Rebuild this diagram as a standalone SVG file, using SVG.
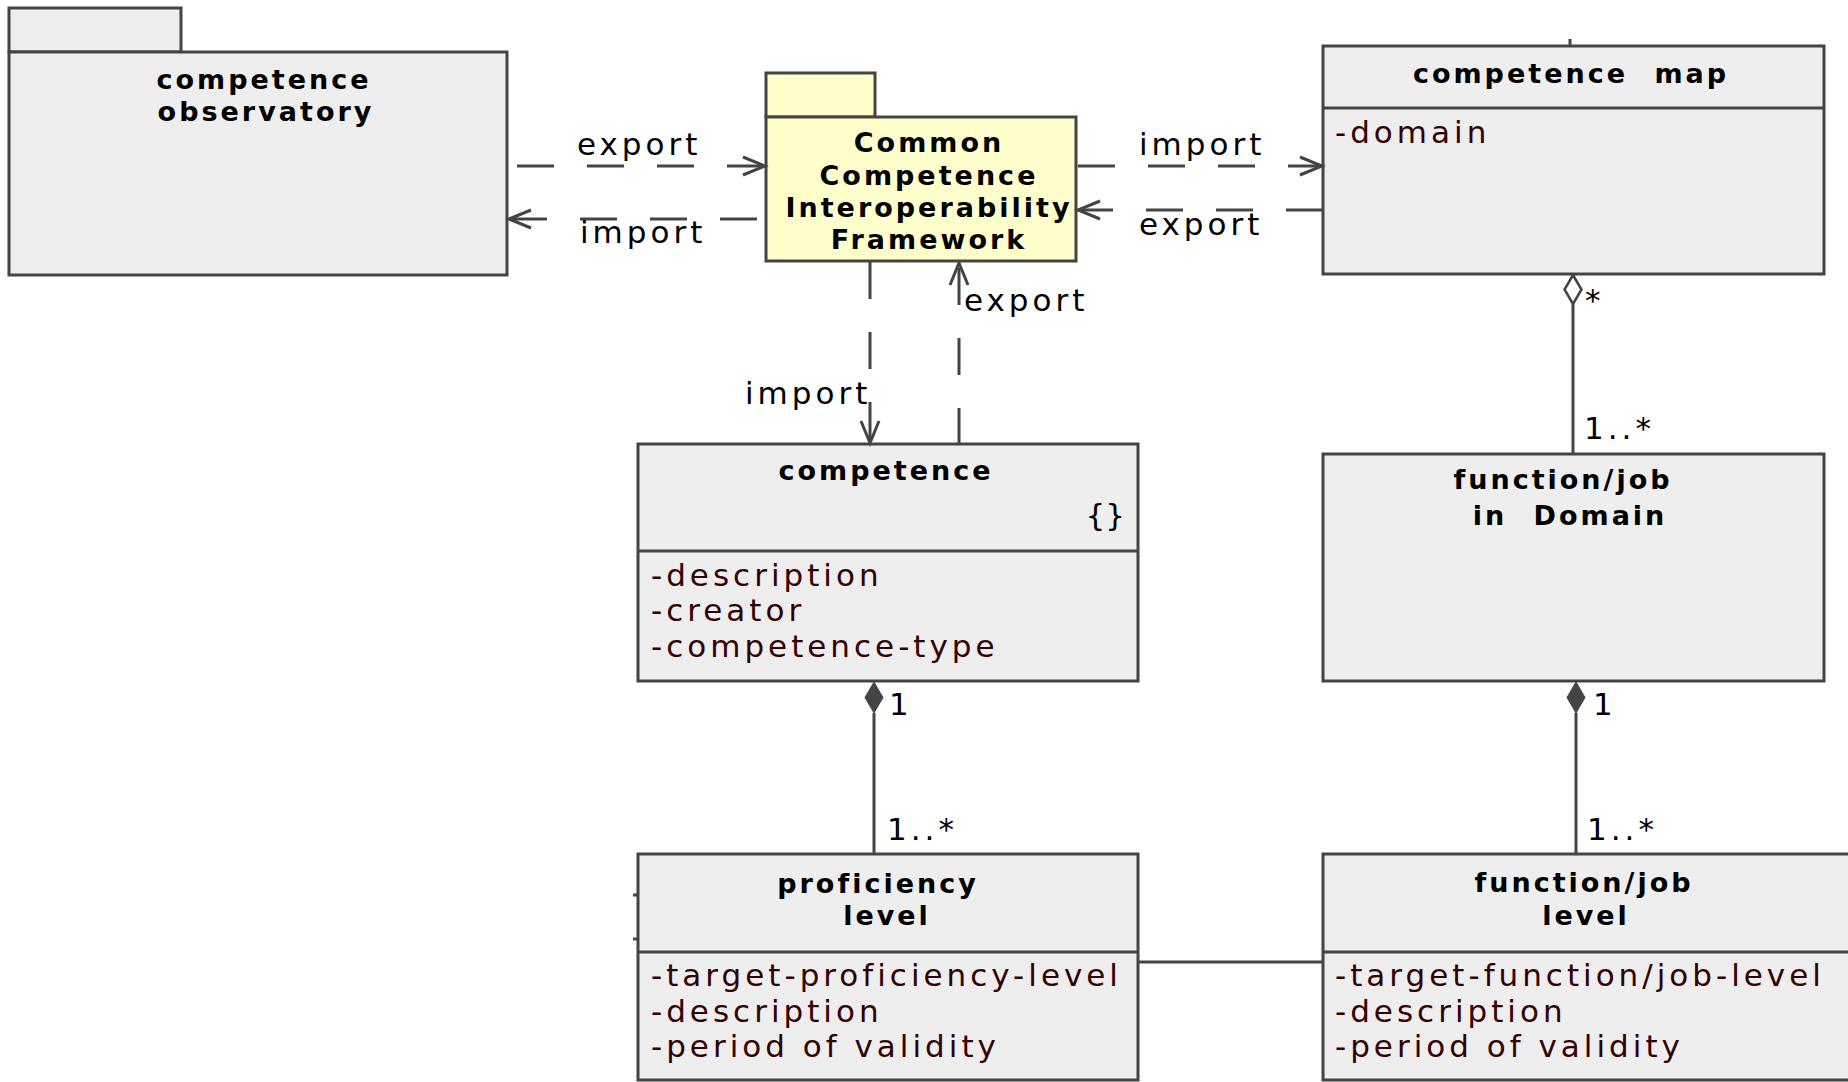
<svg xmlns="http://www.w3.org/2000/svg" width="1848" height="1082" viewBox="0 0 1848 1082">
<style>
.box{fill:#eeeeee;stroke:#444444;stroke-width:3}
.pkg{fill:#ffffcc;stroke:#444444;stroke-width:3}
.div{stroke:#444444;stroke-width:3}
.t{font-family:"DejaVu Sans",sans-serif;font-weight:bold;font-size:27px;fill:#000;text-anchor:middle;letter-spacing:3px;word-spacing:14px}
.l{font-family:"DejaVu Sans",sans-serif;font-size:31px;fill:#000;letter-spacing:4px}
.a{font-family:"DejaVu Sans",sans-serif;font-size:31px;fill:#330000;letter-spacing:4px}
.dash{stroke:#444444;stroke-width:3;fill:none;stroke-dasharray:37 33}
.solid{stroke:#444444;stroke-width:3;fill:none}
</style>
<defs>
<marker id="open" markerUnits="userSpaceOnUse" markerWidth="30" markerHeight="26" viewBox="-26 -13 30 26" refX="0" refY="0" orient="auto">
<path d="M-22,-9 L0,0 L-22,9" fill="none" stroke="#444444" stroke-width="3"/>
</marker>
</defs>
<rect width="1848" height="1082" fill="#ffffff"/>

<g id="competence-observatory">
<rect class="box" x="9" y="8" width="172" height="44"/>
<rect class="box" x="9" y="52" width="498" height="223"/>
<text class="t" x="264" y="89">competence</text>
<text class="t" x="266" y="121">observatory</text>
</g>

<g id="ccif">
<rect class="pkg" x="766" y="73" width="109" height="44"/>
<rect class="pkg" x="766" y="117" width="310" height="144"/>
<text class="t" x="929" y="152">Common</text>
<text class="t" x="929" y="185">Competence</text>
<text class="t" x="929" y="217">Interoperability</text>
<text class="t" x="929" y="249">Framework</text>
</g>

<g id="competence-map">
<line class="div" x1="1570" y1="39" x2="1570" y2="46"/>
<rect class="box" x="1323" y="46" width="501" height="228"/>
<line class="div" x1="1323" y1="108" x2="1824" y2="108"/>
<text class="t" x="1571" y="83">competence map</text>
<text class="a" x="1335" y="143">-domain</text>
</g>

<g id="competence">
<rect class="box" x="638" y="444" width="500" height="237"/>
<line class="div" x1="638" y1="551" x2="1138" y2="551"/>
<text class="t" x="886" y="480">competence</text>
<text class="l" x="1125" y="526" style="text-anchor:end;letter-spacing:0">{}</text>
<text class="a" x="651" y="586">-description</text>
<text class="a" x="651" y="621">-creator</text>
<text class="a" x="651" y="657">-competence-type</text>
</g>

<g id="function-job-in-domain">
<rect class="box" x="1323" y="454" width="501" height="227"/>
<text class="t" x="1563" y="489">function/job</text>
<text class="t" x="1570" y="525">in Domain</text>
</g>

<g id="proficiency-level">
<line class="div" x1="633" y1="895" x2="638" y2="895"/>
<line class="div" x1="633" y1="939" x2="638" y2="939"/>
<rect class="box" x="638" y="854" width="500" height="226"/>
<line class="div" x1="638" y1="952" x2="1138" y2="952"/>
<text class="t" x="878" y="893">proficiency</text>
<text class="t" x="887" y="925">level</text>
<text class="a" x="651" y="986">-target-proficiency-level</text>
<text class="a" x="651" y="1022">-description</text>
<text class="a" x="651" y="1057">-period of validity</text>
</g>

<g id="function-job-level">
<rect class="box" x="1323" y="854" width="545" height="226"/>
<line class="div" x1="1323" y1="952" x2="1868" y2="952"/>
<text class="t" x="1584" y="892">function/job</text>
<text class="t" x="1586" y="925">level</text>
<text class="a" x="1335" y="986">-target-function/job-level</text>
<text class="a" x="1335" y="1022">-description</text>
<text class="a" x="1335" y="1057">-period of validity</text>
</g>

<g id="connectors">
<line class="dash" x1="517" y1="166" x2="765" y2="166" marker-end="url(#open)"/>
<line class="dash" x1="757" y1="219" x2="509" y2="219" marker-end="url(#open)"/>
<line class="dash" x1="1078" y1="166" x2="1322" y2="166" marker-end="url(#open)"/>
<line class="dash" x1="1323" y1="210" x2="1078" y2="210" marker-end="url(#open)"/>
<line class="dash" x1="870" y1="262" x2="870" y2="443" marker-end="url(#open)"/>
<line class="dash" x1="959" y1="445" x2="959" y2="263" marker-end="url(#open)"/>
<line class="solid" x1="1573" y1="304" x2="1573" y2="454"/>
<polygon points="1573,275 1581.5,289.5 1573,304 1564.5,289.5" fill="#ffffff" stroke="#444444" stroke-width="2.5"/>
<line class="solid" x1="874" y1="713" x2="874" y2="854"/>
<polygon points="874,682 883,697.5 874,713 865,697.5" fill="#444444" stroke="#444444" stroke-width="1"/>
<line class="solid" x1="1576" y1="713" x2="1576" y2="854"/>
<polygon points="1576,682 1585,697.5 1576,713 1567,697.5" fill="#444444" stroke="#444444" stroke-width="1"/>
<line class="solid" x1="1138" y1="962" x2="1323" y2="962"/>
<text class="l" x="577" y="155">export</text>
<text class="l" x="580" y="243">import</text>
<text class="l" x="1139" y="155">import</text>
<text class="l" x="1139" y="235">export</text>
<text class="l" x="745" y="404">import</text>
<text class="l" x="964" y="311">export</text>
<text class="l" x="1585" y="311">*</text>
<text class="l" x="1584" y="439">1..*</text>
<text class="l" x="889" y="715">1</text>
<text class="l" x="887" y="840">1..*</text>
<text class="l" x="1593" y="715">1</text>
<text class="l" x="1587" y="840">1..*</text>
</g>
</svg>
